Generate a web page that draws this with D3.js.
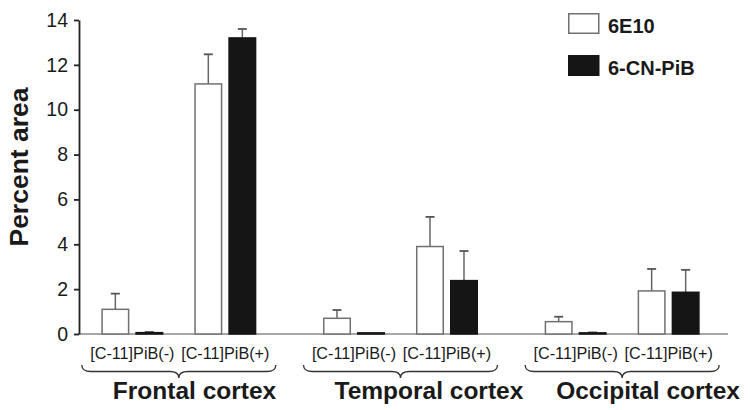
<!DOCTYPE html>
<html>
<head>
<meta charset="utf-8">
<script src="https://cdn.jsdelivr.net/npm/d3@7"></script>
<style>
  html, body { margin: 0; padding: 0; background: #fff; }
  svg { display: block; font-family: "Liberation Sans", Arial, Helvetica, sans-serif; }
</style>
</head>
<body>
<svg id="chart" width="750" height="410"></svg>
<script>
const groups = ["Frontal cortex", "Temporal cortex", "Occipital cortex"];
const subgroups = ["[C-11]PiB(-)", "[C-11]PiB(+)"];
const series = ["6E10", "6-CN-PiB"];
// values listed per group, per subgroup: F-, F+, T-, T+, O-, O+
const values6E10 = [1.1, 11.15, 0.7, 3.9, 0.55, 1.92];
const errors6E10 = [0.7, 1.32, 0.37, 1.32, 0.22, 0.98];
const valuesCNPiB = [0.06, 13.2, 0.05, 2.38, 0.05, 1.86];
const errorsCNPiB = [0.03, 0.4, 0.0, 1.32, 0.02, 1.0];
const yTicks = [0, 2, 4, 6, 8, 10, 12, 14];
const yLabel = "Percent area";

const svg = d3.select("#chart");

const y = d3.scaleLinear().domain([0, 14]).range([334, 20]);
const xGroup = d3.scaleBand().domain(groups).range([68, 733]).paddingInner(0).paddingOuter(0);
const xSub = d3.scaleBand().domain(subgroups).range([0, xGroup.bandwidth()]).paddingInner(0).paddingOuter(0.192);
const xSeries = d3.scaleBand().domain(series).range([0, xSub.bandwidth()]).paddingInner(0.176).paddingOuter(0.455);

const fills = { "6E10": "#ffffff", "6-CN-PiB": "#151515" };
const strokes = { "6E10": "#707070", "6-CN-PiB": "#151515" };

// build records
const records = [];
groups.forEach((g, gi) => {
  subgroups.forEach((s, si) => {
    const idx = gi * subgroups.length + si;
    records.push({ group: g, sub: s, series: "6E10", value: values6E10[idx], err: errors6E10[idx] });
    records.push({ group: g, sub: s, series: "6-CN-PiB", value: valuesCNPiB[idx], err: errorsCNPiB[idx] });
  });
});
const xPos = d => xGroup(d.group) + xSub(d.sub) + xSeries(d.series);

// x baseline
svg.append("line")
  .attr("x1", 78).attr("x2", 728)
  .attr("y1", y(0)).attr("y2", y(0))
  .attr("stroke", "#8a8a8a").attr("stroke-width", 1.5);

// error bars (upward only)
const eb = svg.append("g");
records.forEach(d => {
  if (d.err <= 0) return;
  const cx = xPos(d) + xSeries.bandwidth() / 2;
  eb.append("line").attr("x1", cx).attr("x2", cx)
    .attr("y1", y(d.value)).attr("y2", y(d.value + d.err))
    .attr("stroke", "#666").attr("stroke-width", 1.5);
  eb.append("line").attr("x1", cx - 4.5).attr("x2", cx + 4.5)
    .attr("y1", y(d.value + d.err)).attr("y2", y(d.value + d.err))
    .attr("stroke", "#555").attr("stroke-width", 1.8);
});

// bars
svg.append("g").selectAll("rect").data(records).join("rect")
  .attr("x", d => xPos(d) + 0.75)
  .attr("y", d => y(d.value))
  .attr("width", xSeries.bandwidth() - 1.5)
  .attr("height", d => y(0) - y(d.value))
  .attr("fill", d => fills[d.series])
  .attr("stroke", d => strokes[d.series])
  .attr("stroke-width", 1.5);

// y axis
const yAxis = d3.axisLeft(y).tickValues(yTicks).tickSize(5).tickSizeOuter(0).tickPadding(6);
const ya = svg.append("g").attr("transform", "translate(79,0)").call(yAxis);
ya.select(".domain").attr("stroke", "#222").attr("stroke-width", 1.8);
ya.selectAll(".tick line").attr("stroke", "#222").attr("stroke-width", 1.8);
ya.selectAll(".tick text").attr("font-size", 19.5).attr("fill", "#1a1a1a")
  .attr("font-family", "'Liberation Sans', Arial, sans-serif");

// y label
svg.append("text")
  .attr("transform", "translate(28,167) rotate(-90)")
  .attr("text-anchor", "middle")
  .attr("font-size", 26.5).attr("font-weight", "bold").attr("fill", "#1a1a1a")
  .text(yLabel);

// subgroup labels
groups.forEach(g => {
  subgroups.forEach(s => {
    svg.append("text")
      .attr("x", xGroup(g) + xSub(s) + xSub.bandwidth() / 2)
      .attr("y", 359)
      .attr("text-anchor", "middle")
      .attr("font-size", 16.2).attr("fill", "#1a1a1a")
      .text(s);
  });
});

// braces
function bracePath(x0, x1, y0, h) {
  const xm = (x0 + x1) / 2, ym = y0 + h / 2, q = 9;
  return `M${x0},${y0} Q${x0},${ym} ${x0 + q},${ym} L${xm - q},${ym} Q${xm},${ym} ${xm},${y0 + h} Q${xm},${ym} ${xm + q},${ym} L${x1 - q},${ym} Q${x1},${ym} ${x1},${y0}`;
}
groups.forEach(g => {
  const c = xGroup(g) + xGroup.bandwidth() / 2;
  svg.append("path")
    .attr("d", bracePath(c - 97, c + 97, 365, 13))
    .attr("fill", "none").attr("stroke", "#333").attr("stroke-width", 1.3);
  svg.append("text")
    .attr("x", c - 66).attr("y", 399)
    .attr("font-size", 24.5).attr("font-weight", "bold").attr("fill", "#1a1a1a")
    .text(g);
});

// legend
series.forEach((s, i) => {
  const ly = 13 + i * 42;
  svg.append("rect")
    .attr("x", 568.75).attr("y", ly + 0.75)
    .attr("width", 30).attr("height", 19.5)
    .attr("fill", fills[s]).attr("stroke", strokes[s]).attr("stroke-width", 1.5);
  svg.append("text")
    .attr("x", 608).attr("y", ly + 19.5)
    .attr("font-size", 20).attr("font-weight", "bold").attr("fill", "#1a1a1a")
    .text(s);
});
</script>
</body>
</html>
